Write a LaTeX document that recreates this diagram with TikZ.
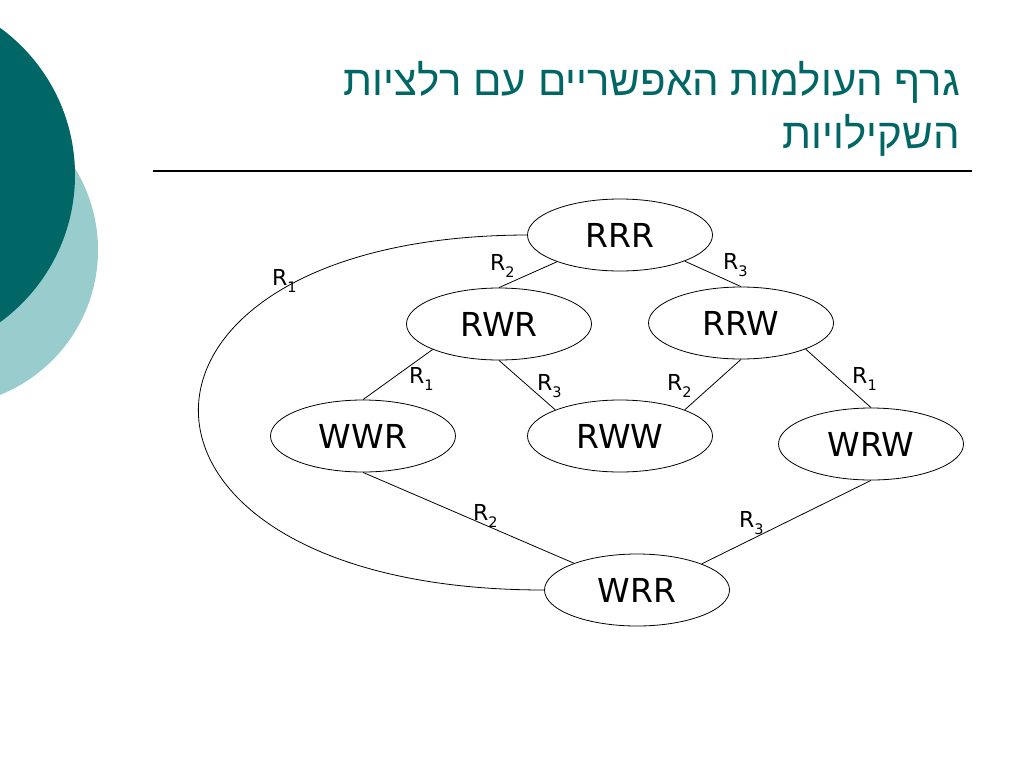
\documentclass[tikz,border=0pt]{standalone}
\usepackage{fontspec}
\setmainfont{DejaVu Sans}
\newfontfamily\hebfont[Script=Hebrew]{Liberation Sans}
\TeXXeTstate=1
\definecolor{darkteal}{RGB}{0,102,102}
\definecolor{lightteal}{RGB}{153,204,204}
\definecolor{titleteal}{RGB}{0,102,102}
\newcommand\relR[1]{R\raisebox{-0.6ex}{\fontsize{14.5}{14.5}\selectfont #1}}
\tikzset{
  world/.style={draw=black, line width=0.8pt, fill=white, ellipse, minimum width=185pt, minimum height=72pt, inner sep=0pt, font=\fontsize{33}{33}\selectfont},
  rel/.style={draw=black, line width=0.8pt},
  rellabel/.style={anchor=base west, inner sep=0pt, font=\fontsize{22}{22}\selectfont},
  titletext/.style={anchor=base east, inner sep=0pt, text=titleteal, font=\hebfont\fontsize{42}{42}\selectfont}
}
\usetikzlibrary{shapes.geometric}
\begin{document}
\begin{tikzpicture}[x=1pt,y=-1pt]
\useasboundingbox (0,0) rectangle (1024,768);
\fill[white] (0,0) rectangle (1024,768);
% decorative circles
\begin{scope}
\clip (0,0) rectangle (1024,768);
\fill[lightteal] (-58,250) circle (156);
\fill[darkteal] (-107,175) circle (182);
\end{scope}
% title
\node[titletext] (t1) at (960,95) {\beginR גרף העולמות האפשריים עם רלציות\endR};
\node[titletext] (t2) at (960,148) {\beginR השקילויות\endR};
\coordinate (hl) at (153,171);
\coordinate (hr) at (972,171);
\draw[line width=1.2pt] (hl) -- (hr);
% worlds
\node[world] (RRR) at (620,235) {RRR};
\node[world] (RWR) at (499,324) {RWR};
\node[world] (RRW) at (741,323) {RRW};
\node[world] (WWR) at (363,436) {WWR};
\node[world] (RWW) at (620,436) {RWW};
\node[world] (WRW) at (871,444) {WRW};
\node[world] (WRR) at (637,590) {WRR};
% relations
\draw[rel] (RRR.203) -- (RWR.north);
\draw[rel] (RRR.338) -- (RRW.north);
\draw[rel] (RWR.201) -- (WWR.north);
\draw[rel] (RWR.south) -- (RWW.158);
\draw[rel] (RRW.south) -- (RWW.22);
\draw[rel] (RRW.338) -- (WRW.north);
\draw[rel] (WWR.south) -- (WRR.157);
\draw[rel] (WRW.south) -- (WRR.22);
\draw[rel] (RRR.west) .. controls (86,236) and (86,590) .. (WRR.west);
% labels
\node[rellabel] (l1) at (272,285) {\relR{1}};
\node[rellabel] (l2) at (490,270) {\relR{2}};
\node[rellabel] (l3) at (723,269) {\relR{3}};
\node[rellabel] (l4) at (409,383) {\relR{1}};
\node[rellabel] (l5) at (537,390) {\relR{3}};
\node[rellabel] (l6) at (667,390) {\relR{2}};
\node[rellabel] (l7) at (852,383) {\relR{1}};
\node[rellabel] (l8) at (473,520) {\relR{2}};
\node[rellabel] (l9) at (739,527) {\relR{3}};
\end{tikzpicture}
\end{document}
